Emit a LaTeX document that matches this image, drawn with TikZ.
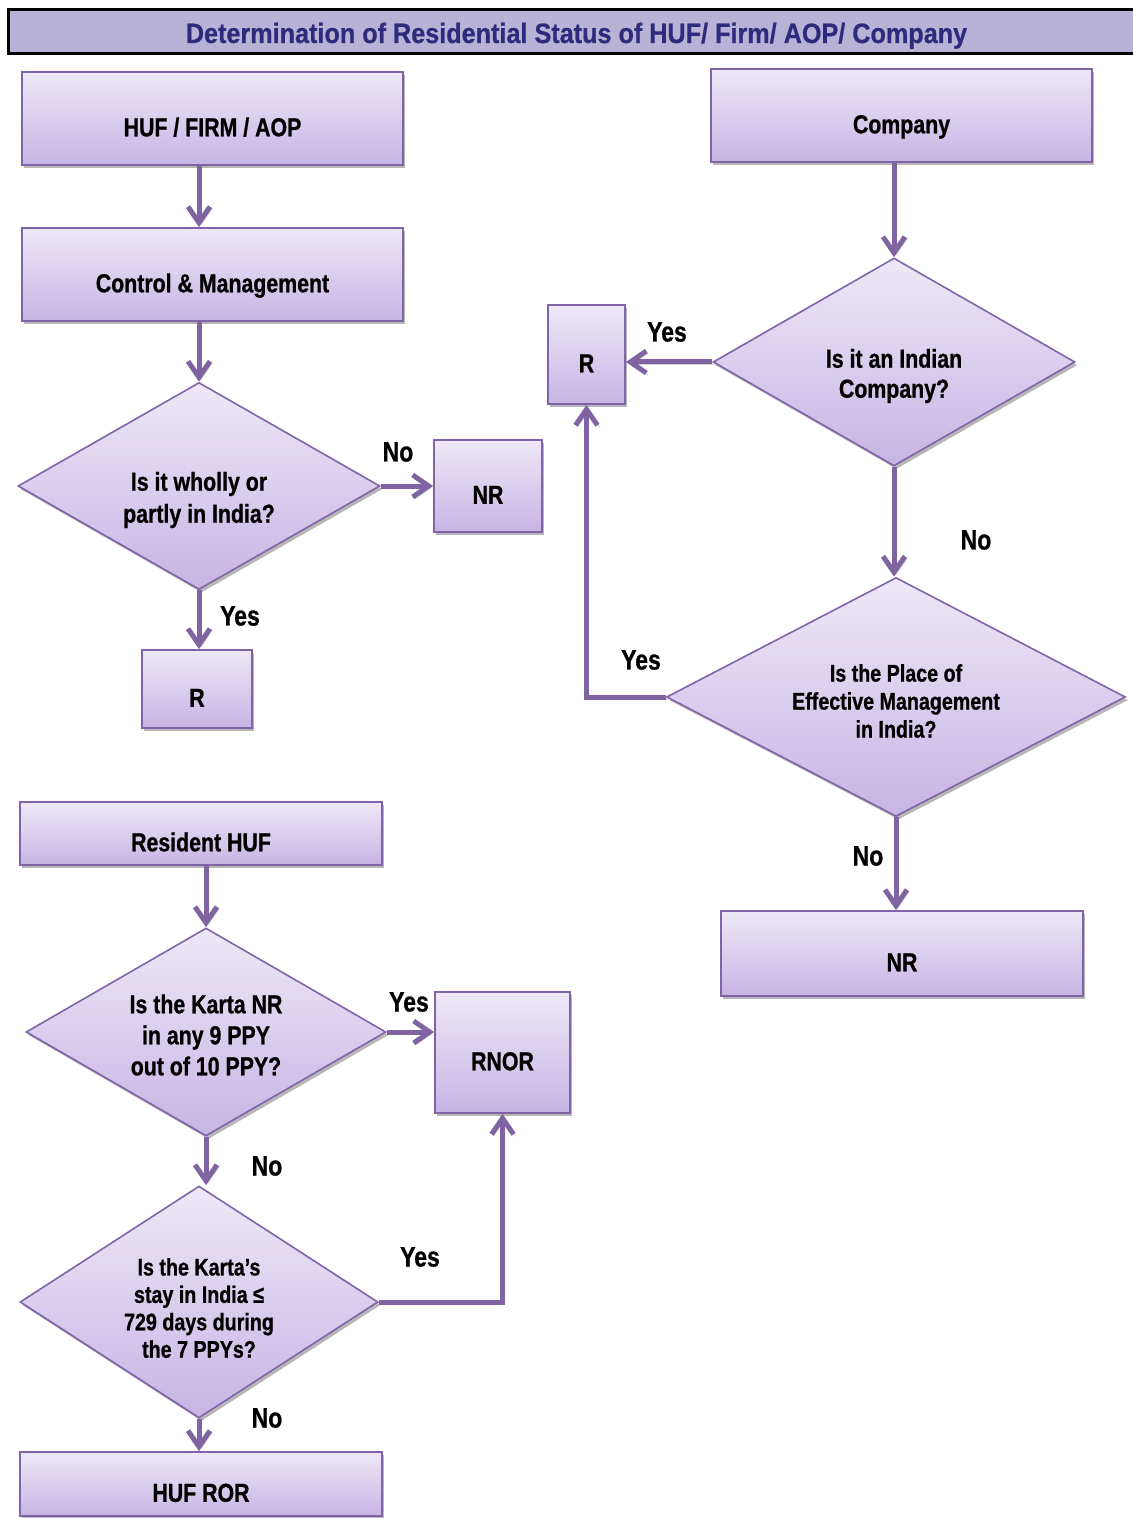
\documentclass[tikz,border=0pt]{standalone}
\usepackage{fontspec}
\setmainfont[FakeStretch=0.82,BoldFeatures={FakeBold=0.8}]{Liberation Sans}
\newfontfamily\titlefont[FakeStretch=0.9,BoldFeatures={FakeBold=0.6}]{Liberation Sans}
\usetikzlibrary{shapes.geometric,arrows.meta,shadows,calc}

\definecolor{boxtop}{HTML}{EEE8F7}
\definecolor{boxbot}{HTML}{C6B5E4}
\definecolor{edgeviolet}{HTML}{7F64A8}
\definecolor{arrowviolet}{HTML}{8064A2}
\definecolor{titlefill}{HTML}{B8B2D6}
\definecolor{titleink}{HTML}{2E2A7C}

\begin{document}
\begin{tikzpicture}[x=0.5pt,y=-0.5pt,
  shadowed/.style={drop shadow={shadow xshift=1.2pt,shadow yshift=-1.6pt,opacity=0.4,fill=black!70}},
  stepbox/.style={draw=edgeviolet,line width=0.9pt,top color=boxtop,bottom color=boxbot,
    shadowed,inner sep=0pt,font=\bfseries\fontsize{13}{15}\selectfont,
    text height=17.8pt,text depth=0pt},
  decision/.style={diamond,draw=edgeviolet,line width=0.8pt,top color=boxtop,bottom color=boxbot,
    shadowed,inner sep=0pt},
  qtext/.style={align=center,inner sep=0pt,font=\bfseries\fontsize{13}{16}\selectfont},
  qsmall/.style={align=center,inner sep=0pt,font=\bfseries\fontsize{12}{14}\selectfont},
  lbl/.style={inner sep=0pt,font=\bfseries\fontsize{14}{16}\selectfont},
  arr/.style={draw=arrowviolet,line width=2.5pt,-{Straight Barb[length=8pt,width=11pt]},
    preaction={draw=black!40,opacity=0.45,transform canvas={xshift=1pt,yshift=-1pt}}}
]
\useasboundingbox (0,0) rectangle (1133,1518);

% heading bar
\node (title) [draw=black,line width=1.5pt,fill=titlefill,minimum width=568.5pt,minimum height=22pt,
  inner sep=0pt,text=titleink,font=\titlefont\bfseries\fontsize{14}{16}\selectfont,
  text height=11pt,text depth=0pt]
  at (576.5,32) {Determination of Residential Status of HUF/ Firm/ AOP/ Company};

% HUF / Firm / AOP branch
\node (hufa) [stepbox,minimum width=190.5pt,minimum height=46.5pt] at (212.5,118.5) {HUF / FIRM / AOP};
\node (ctrl) [stepbox,minimum width=190.5pt,minimum height=46.5pt] at (212.5,274.5) {Control \& Management};
\node (d1) [decision,minimum width=181pt,minimum height=103.5pt] at (199,486) {};
\node (d1t) [qtext,yshift=-7pt] at (d1.center) {Is it wholly or\\partly in India?};
\node (nr1) [stepbox,minimum width=54pt,minimum height=46pt] at (488,486) {NR};
\node (r1) [stepbox,minimum width=55pt,minimum height=39pt] at (197,689) {R};

% Company branch
\node (comp) [stepbox,minimum width=190.5pt,minimum height=46.5pt] at (901.5,115.5) {Company};
\node (d2) [decision,minimum width=181pt,minimum height=104pt] at (894,362) {};
\node (d2t) [qtext,yshift=-7pt,font=\bfseries\fontsize{13}{15}\selectfont] at (d2.center) {Is it an Indian\\Company?};
\node (r2) [stepbox,minimum width=38.5pt,minimum height=49.5pt] at (586.5,354.5) {R};
\node (d3) [decision,minimum width=229.5pt,minimum height=119.5pt] at (896,697) {};
\node (d3t) [qsmall,yshift=-2pt] at (d3.center) {Is the Place of\\Effective Management\\in India?};
\node (nr2) [stepbox,minimum width=181pt,minimum height=42.5pt] at (902,953.5) {NR};

% Resident HUF branch
\node (res) [stepbox,minimum width=181pt,minimum height=31.5pt] at (201,833.5) {Resident HUF};
\node (d4) [decision,minimum width=180pt,minimum height=104pt] at (206,1032) {};
\node (d4t) [qtext,yshift=-1.5pt,font=\bfseries\fontsize{13}{15.5}\selectfont] at (d4.center) {Is the Karta NR\\in any 9 PPY\\out of 10 PPY?};
\node (rnor) [stepbox,minimum width=67.5pt,minimum height=60.5pt] at (502.5,1052.5) {RNOR};
\node (d5) [decision,minimum width=179pt,minimum height=116pt] at (199,1302) {};
\node (d5t) [qsmall,yshift=-3pt,font=\bfseries\fontsize{12}{13.7}\selectfont] at (d5.center) {Is the Karta’s\\stay in India ≤\\729 days during\\the 7 PPYs?};
\node (ror) [stepbox,minimum width=181pt,minimum height=32pt] at (201,1484) {HUF ROR};

% connectors
\draw[arr] (hufa.south -| d1.north) -- (ctrl.north -| d1.north);
\draw[arr] (ctrl.south -| d1.north) -- (d1.north);
\draw[arr] (d1.east) -- (nr1.west |- d1.east);
\draw[arr] (d1.south) -- (r1.north -| d1.south);

\draw[arr] (comp.south -| d2.north) -- (d2.north);
\draw[arr] (d2.west) -- (r2.east |- d2.west);
\draw[arr] (d2.south) -- (d2.south |- d3.north);
\draw[arr] (d3.west) -| (r2.south);
\draw[arr] (d3.south) -- (nr2.north -| d3.south);

\draw[arr] (res.south -| d4.north) -- (d4.north);
\draw[arr] (d4.east) -- (rnor.west |- d4.east);
\draw[arr] (d4.south) -- (d4.south |- d5.north);
\draw[arr] (d5.east) -| (rnor.south);
\draw[arr] (d5.south) -- (ror.north -| d5.south);

% answer labels
\node (l1) [lbl] at (398,452) {No};
\node (l2) [lbl] at (240,616) {Yes};
\node (l3) [lbl] at (667,332) {Yes};
\node (l4) [lbl] at (976,540) {No};
\node (l5) [lbl] at (641,660) {Yes};
\node (l6) [lbl] at (868,856) {No};
\node (l7) [lbl] at (409,1002) {Yes};
\node (l8) [lbl] at (267,1166) {No};
\node (l9) [lbl] at (420,1257) {Yes};
\node (l10) [lbl] at (267,1418) {No};
\end{tikzpicture}
\end{document}
